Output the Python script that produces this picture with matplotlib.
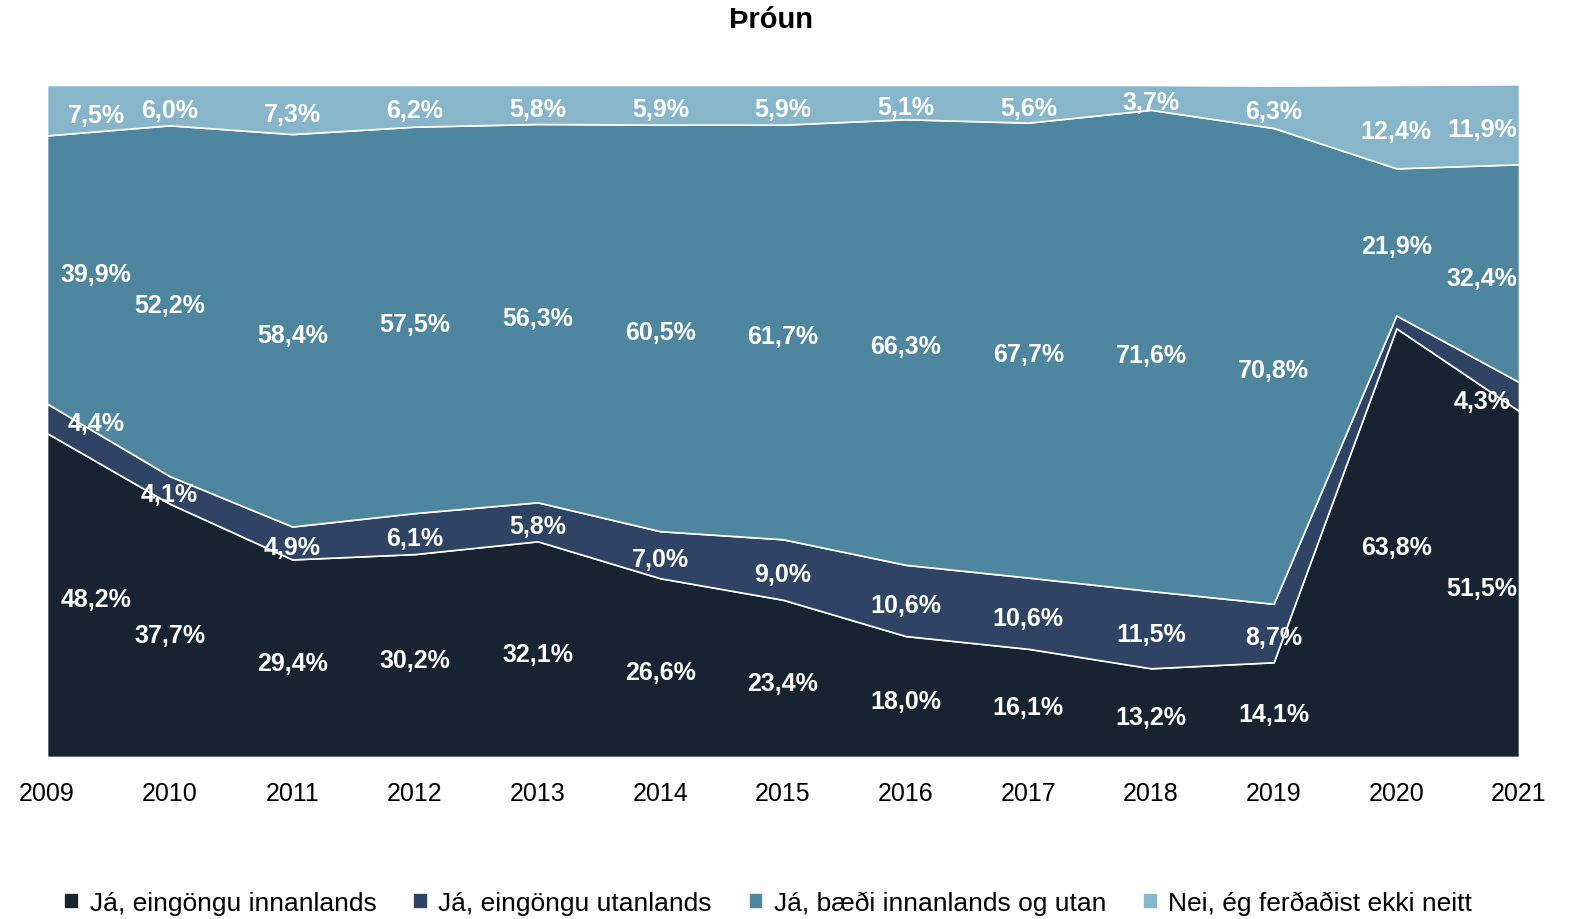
import matplotlib
matplotlib.use('agg')
import matplotlib.pyplot as plt
import numpy as np

years = [2009, 2010, 2011, 2012, 2013, 2014, 2015, 2016, 2017, 2018, 2019, 2020, 2021]
innanlands = [48.2, 37.7, 29.4, 30.2, 32.1, 26.6, 23.4, 18.0, 16.1, 13.2, 14.1, 63.8, 51.5]
utanlands = [4.4, 4.1, 4.9, 6.1, 5.8, 7.0, 9.0, 10.6, 10.6, 11.5, 8.7, 1.9, 4.3]
baedi = [39.9, 52.2, 58.4, 57.5, 56.3, 60.5, 61.7, 66.3, 67.7, 71.6, 70.8, 21.9, 32.4]
nei = [7.5, 6.0, 7.3, 6.2, 5.8, 5.9, 5.9, 5.1, 5.6, 3.7, 6.3, 12.4, 11.9]

labels = ["Já, eingöngu innanlands", "Já, eingöngu utanlands",
          "Já, bæði innanlands og utan", "Nei, ég ferðaðist ekki neitt"]
colors = ["#172331", "#2f4465", "#4e869f", "#87b6cb"]

plt.rcParams['font.family'] = ['Liberation Sans', 'DejaVu Sans']

fig = plt.figure(figsize=(15.72, 9.19), dpi=100)
ax = fig.add_axes([47 / 1572, 1 - 757 / 919, 1472 / 1572, 672 / 919])

series = [innanlands, utanlands, baedi, nei]
ax.stackplot(years, *series, colors=colors, edgecolor="white", linewidth=1.2, labels=labels)

ax.set_xlim(years[0], years[-1])
ax.set_ylim(0, 100)
ax.set_yticks([])
ax.set_xticks(years)
ax.tick_params(axis="x", length=0, pad=18, labelsize=18)
for s in ax.spines.values():
    s.set_visible(False)

# value labels in the middle of each band
bottom = np.zeros(len(years))
for vals in series:
    v = np.array(vals)
    mid = bottom + v / 2
    for i, yr in enumerate(years):
        if v[i] < 2:
            continue
        txt = f"{v[i]:.1f}%".replace(".", ",")
        x = yr
        if i == 0:
            x = yr + 0.4
        elif i == len(years) - 1:
            x = yr - 0.3
        ax.text(x, mid[i] - 0.8, txt, ha="center", va="center", color="white",
                fontsize=18, fontweight="bold")
    bottom = bottom + v

fig.text(771 / 1572, 1 - 20 / 919, "Þróun", ha="center", va="center",
         fontsize=21, fontweight="bold")

leg = ax.legend(loc="center", bbox_to_anchor=(0.49, -0.218), ncol=4,
                frameon=False, fontsize=19, handlelength=0.55, handleheight=0.55,
                handletextpad=0.4, columnspacing=1.4)

plt.savefig("out.png", dpi=100)
plt.close()
